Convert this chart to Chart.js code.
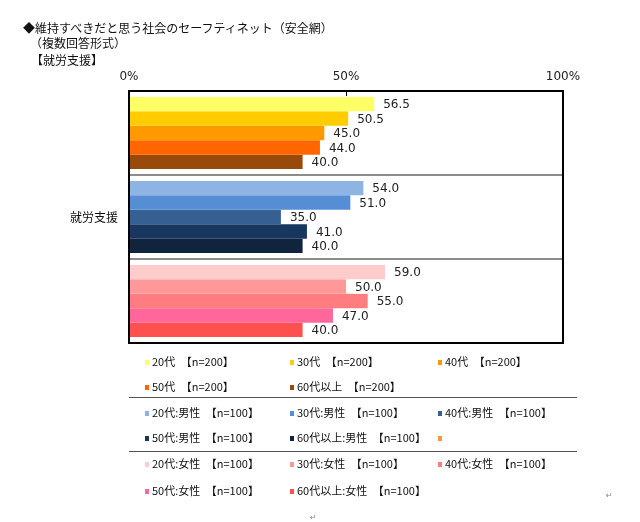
<!DOCTYPE html>
<html><head><meta charset="utf-8">
<script src="https://cdn.jsdelivr.net/npm/chart.js@4"></script>
<style>
body{margin:0;background:#fff;width:640px;height:522px;overflow:hidden;position:relative;font-family:"Noto Sans CJK JP",sans-serif;color:#111}
#c{position:absolute;left:0;top:0}
.t{position:absolute;font-size:12px;white-space:nowrap;line-height:12px}
.lg{position:absolute;font-size:11px;white-space:nowrap;line-height:11px;color:#111}
.sq{position:absolute;width:4px;height:5px}
.sep{position:absolute;left:129px;width:448px;height:0;border-top:1.5px solid #555}
.pm{position:absolute;font-size:8px;color:#888;font-family:"DejaVu Sans",sans-serif}
</style></head><body>
<canvas id="c" width="640" height="522"></canvas>
<div id="overlay"></div>
<script>
const titleLines = ["◆維持すべきだと思う社会のセーフティネット（安全網）", "（複数回答形式）", "【就労支援】"];
const categoryLabels = ["", "就労支援", ""];
const ages = ["20代", "30代", "40代", "50代", "60代以上"];
const groupSuffix = ["", ":男性", ":女性"];
const sampleSizes = [200, 100, 100];
const xTickLabels = ["0%", "50%", "100%"];
// values per age: [全体, 男性, 女性]
const v20 = [56.5, 54.0, 59.0];
const v30 = [50.5, 51.0, 50.0];
const v40 = [45.0, 35.0, 55.0];
const v50 = [44.0, 41.0, 47.0];
const v60 = [40.0, 40.0, 40.0];
const seriesValues = [v20, v30, v40, v50, v60];
// colours per age: [全体, 男性, 女性]
const c20 = ["#FFFF66", "#8EB4E3", "#FFCCCC"];
const c30 = ["#FFCC00", "#558ED5", "#FF9999"];
const c40 = ["#FF9900", "#376092", "#FF7C80"];
const c50 = ["#FF6600", "#17375E", "#FF6699"];
const c60 = ["#994A0A", "#10243E", "#FF5050"];
const seriesColors = [c20, c30, c40, c50, c60];

const ov = document.getElementById('overlay');
function add(cls, html, left, top, style) {
  const d = document.createElement('div');
  d.className = cls; d.innerHTML = html;
  d.style.left = left + 'px'; d.style.top = top + 'px';
  if (style) Object.assign(d.style, style);
  ov.appendChild(d); return d;
}
// title
add('t', titleLines[0], 23, 22);
add('t', titleLines[1], 30, 37);
add('t', titleLines[2], 31, 54);

// legend
const colSq = [145, 290, 438];
const colTx = [152, 297, 445];
const rowY = [[362, 387], [413, 438], [464, 491]];
groupSuffix.forEach((suf, g) => {
  ages.forEach((a, i) => {
    const r = Math.floor(i / 3), col = i % 3;
    const cy = rowY[g][r];
    add('sq', '', colSq[col], cy - 2, {background: seriesColors[i][g]});
    add('lg', a + suf + '　【n=' + sampleSizes[g] + '】', colTx[col], cy - 6);
  });
});
add('sq', '', 438, 436, {background: '#F79646'});
add('sep', '', 0, 397, {left: '129px'});
add('sep', '', 0, 451, {left: '129px'});
add('pm', '↵', 606, 491);
add('pm', '↵', 310, 513);

const framePlugin = {
  id: 'frame',
  afterDatasetsDraw(chart) {
    const {ctx, chartArea: a, scales: {x, y}} = chart;
    ctx.save();
    ctx.strokeStyle = '#8c8c8c'; ctx.lineWidth = 2;
    for (let i = 0; i < categoryLabels.length - 1; i++) {
      const yy = Math.round((y.getPixelForValue(i) + y.getPixelForValue(i + 1)) / 2);
      ctx.beginPath(); ctx.moveTo(a.left, yy); ctx.lineTo(a.right, yy); ctx.stroke();
    }
    ctx.strokeStyle = '#000'; ctx.lineWidth = 1;
    const xm = Math.round(x.getPixelForValue(50)) + 0.5;
    ctx.beginPath(); ctx.moveTo(xm, a.top); ctx.lineTo(xm, a.top + 5); ctx.stroke();
    ctx.lineWidth = 2;
    ctx.strokeRect(a.left, a.top, a.right - a.left, a.bottom - a.top);
    ctx.font = '12px "DejaVu Sans"'; ctx.textBaseline = 'middle'; ctx.textAlign = 'left';
    chart.data.datasets.forEach((ds, di) => {
      chart.getDatasetMeta(di).data.forEach((bar, i) => {
        const txt = ds.data[i].toFixed(1);
        const tx = bar.x + 9;
        const w = ctx.measureText(txt).width;
        ctx.fillStyle = '#fff'; ctx.fillRect(tx - 2, bar.y - 6, w + 4, 13);
        ctx.fillStyle = '#222'; ctx.fillText(txt, tx, bar.y + 1);
      });
    });
    ctx.restore();
  }
};

new Chart(document.getElementById('c'), {
  type: 'bar',
  data: {
    labels: categoryLabels,
    datasets: ages.map((a, i) => ({
      label: a,
      data: seriesValues[i],
      backgroundColor: seriesColors[i],
      borderWidth: 0,
      categoryPercentage: 0.86,
      barPercentage: 1.0
    }))
  },
  options: {
    indexAxis: 'y',
    responsive: false,
    animation: false,
    layout: {padding: {left: 0, top: 0, right: 77, bottom: 179}},
    plugins: {legend: {display: false}, tooltip: {enabled: false}},
    scales: {
      x: {
        position: 'top', min: 0, max: 100,
        ticks: {stepSize: 50, padding: 7, color: '#222', font: {family: 'DejaVu Sans', size: 12},
          callback: (v, i) => xTickLabels[i]},
        grid: {display: false, drawTicks: false},
        border: {display: false},
        afterFit(s) { s.height = 91; }
      },
      y: {
        ticks: {padding: 11, color: '#111', font: {family: 'Noto Sans CJK JP', size: 12}},
        grid: {display: false, drawTicks: false},
        border: {display: false},
        afterFit(s) { s.width = 129; }
      }
    }
  },
  plugins: [framePlugin]
});
</script>
</body></html>
